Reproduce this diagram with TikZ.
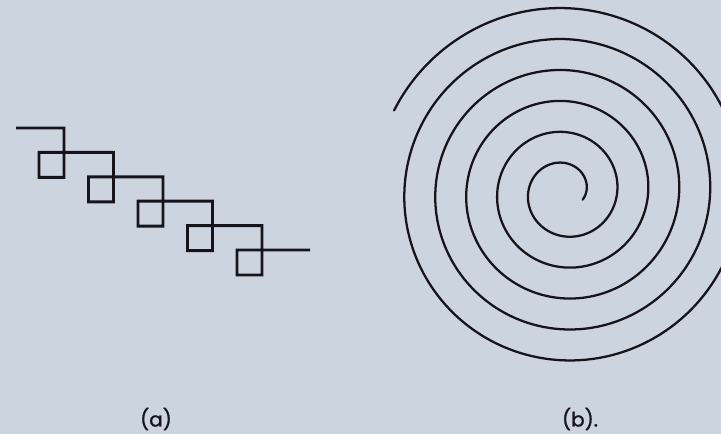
\documentclass[tikz,border=0pt]{standalone}
\usepackage{fontspec}
\setmainfont{Poppins}
\newfontfamily\capfont{Poppins}[FakeBold=1.2]
\usepackage{tikz}
\usetikzlibrary{positioning,calc}
\definecolor{paper}{RGB}{204,212,224}
\definecolor{ink}{RGB}{20,20,26}

\begin{document}
\begin{tikzpicture}[x=0.75pt, y=-0.75pt,
    wire/.style={draw=ink, line width=2.2pt, line join=miter},
    coil/.style={draw=ink, line width=1.7pt, line cap=round},
    caption/.style={font=\capfont\fontsize{15}{18}\selectfont, text=ink, inner sep=0pt}]

    % page
    \fill[paper] (0,0) rectangle (721,434);
    \useasboundingbox (0,0) rectangle (721,434);
    \clip (0,0) rectangle (721,434);

    % (a) stepped line with loops
    \draw[wire] (16,128)
      foreach \i in {0,...,4} {
        -- ({64+49.5*\i},{128+24.4*\i})
        -- ({64+49.5*\i},{177.4+24.4*\i})
        -- ({39+49.5*\i},{177.4+24.4*\i})
        -- ({39+49.5*\i},{152.4+24.4*\i})
      } -- (310,250);

    % (b) spiral
    \draw[coil] plot[domain=-23.6:1954.5, samples=500, smooth]
      ({565+(21.26+0.08604*\x)*cos(\x)}, {192-(21.26+0.08604*\x)*sin(\x)});

    % Captions
    \node[caption] (capa) at (156,419) {(a)};
    \node[caption] (capb) at (580,419) {(b).};
\end{tikzpicture}
\end{document}
